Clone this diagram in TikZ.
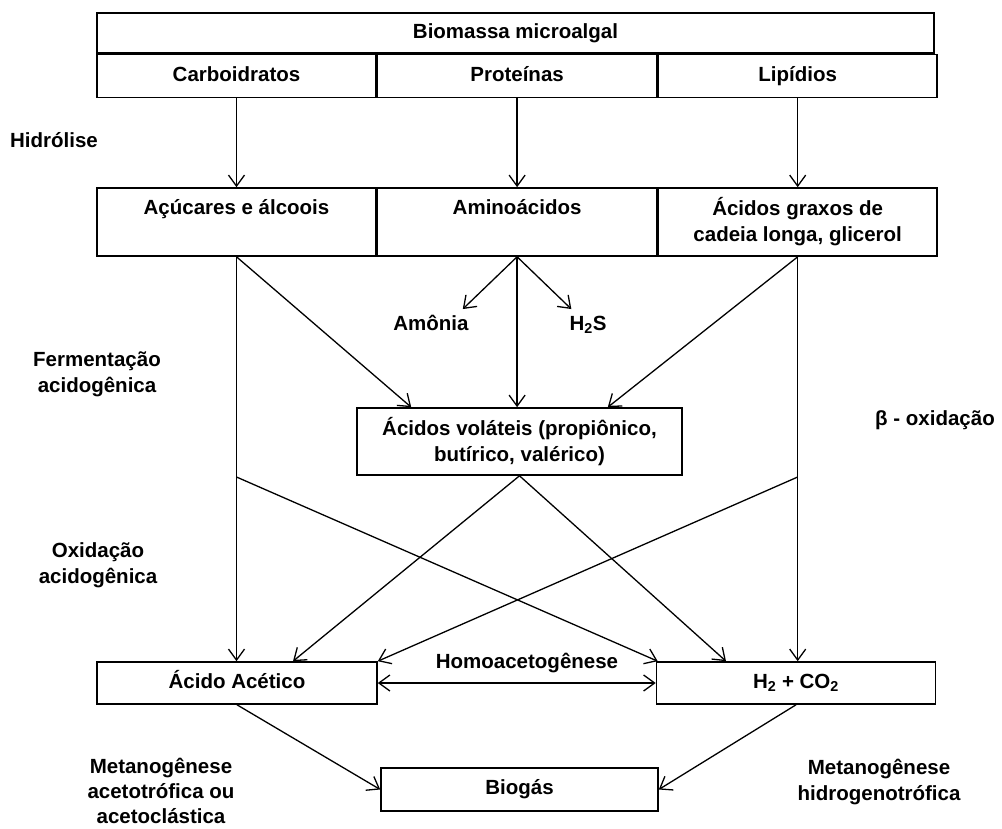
\documentclass[tikz,border=0pt]{standalone}
\usepackage{fontspec}
\setmainfont{Liberation Sans}
\usetikzlibrary{arrows.meta,positioning}

\begin{document}
\begin{tikzpicture}[x=1pt,y=-1pt,
  every node/.style={font=\fontsize{20.5}{26}\selectfont\bfseries,align=center,inner sep=0},
  one/.style={text height=15pt,text depth=4.5pt},
  cell/.style={draw,one,line width=1.6pt,minimum width=279pt,minimum height=43pt},
  cellb/.style={draw,line width=1.6pt,minimum width=279pt,minimum height=68pt,
    execute at begin node={\rule{0pt}{21pt}},execute at end node={\rule[-5pt]{0pt}{5pt}}},
  box/.style={draw,line width=1.6pt,minimum height=42pt},
  flow/.style={-{Straight Barb[length=11pt,width=16pt]},line width=1.3pt}]

\useasboundingbox (0,0) rectangle (1002,828);

\node [draw, one, line width=1.6pt, minimum width=837pt, minimum height=40pt] (bio) at (515.5,33) {Biomassa microalgal};
\node [cell, anchor=north west] (carb) at (bio.south west) {Carboidratos};
\node [cell, right=0pt of carb] (prot) {Proteínas};
\node [cell, right=0pt of prot] (lip) {Lipídios};

\node [cellb] (acuc) at (236.5,222) {Açúcares e álcoois\\~};
\node [cellb, right=0pt of acuc] (amino) {Aminoácidos\\~};
\node [cellb, right=0pt of amino] (graxos) {Ácidos graxos de\\cadeia longa, glicerol};

\node (hidr) at (54,140) {Hidrólise};
\node (ferm) at (97,374) {Fermentação\\acidogênica};
\node (oxid) at (98,565) {Oxidação\\acidogênica};
\node (beta) at (935,420) {β - oxidação};

\node [one] (amon) at (431,325) {Amônia};
\node [one] (hs) at (588,325) {H\textsubscript{2}S};

\node [box, minimum width=325pt, minimum height=67pt] (vol) at (519.5,441.5) {Ácidos voláteis (propiônico,\\butírico, valérico)};

\node [box, one, minimum width=280pt] (acet) at (237,683) {Ácido Acético};
\node [box, one, minimum width=279pt] (hco) at (796,683) {H\textsubscript{2} + CO\textsubscript{2}};
\node [one] (homo) at (527,663) {Homoacetogênese};
\node [box, one, minimum width=277pt, minimum height=43pt] (biog) at (519.5,789.5) {Biogás};

\node [anchor=south, font=\fontsize{20.5}{25}\selectfont\bfseries] (metl) at (161,824) {Metanogênese\\acetotrófica ou\\acetoclástica};
\node (metr) at (879,782) {Metanogênese\\hidrogenotrófica};

\coordinate (acucx) at (acuc.south |- 0,477);
\coordinate (graxx) at (graxos.south |- 0,477);

\draw [flow] (carb) -- (acuc);
\draw [flow] (prot) -- (amino);
\draw [flow] (lip) -- (graxos);

\draw [flow] (amino.south) -- ([shift={(-6,-6)}]amon.north east);
\draw [flow] (amino.south) -- ([shift={(2,-6)}]hs.north west);
\draw [flow] (amino.south) -- (amino.south |- vol.north);
\draw [flow] (acuc.south) -- ([xshift=55pt]vol.north west);
\draw [flow] (graxos.south) -- ([xshift=-75pt]vol.north east);

\draw [flow] (acuc.south) -- (acuc.south |- acet.north);
\draw [flow] (graxos.south) -- (graxos.south |- hco.north);
\draw [flow] (acucx) -- ([xshift=2pt]hco.north west);
\draw [flow] (graxx) -- (acet.north east);
\draw [flow] (vol.south) -- ([xshift=56pt]acet.north);
\draw [flow] (vol.south) -- ([xshift=-70pt]hco.north);

\draw [{Straight Barb[length=11pt,width=16pt]}-{Straight Barb[length=11pt,width=16pt]}, line width=1.3pt] (acet) -- (hco);

\draw [flow] (acet.south) -- (biog.west);
\draw [flow] (hco.south) -- (biog.east);

\end{tikzpicture}
\end{document}
